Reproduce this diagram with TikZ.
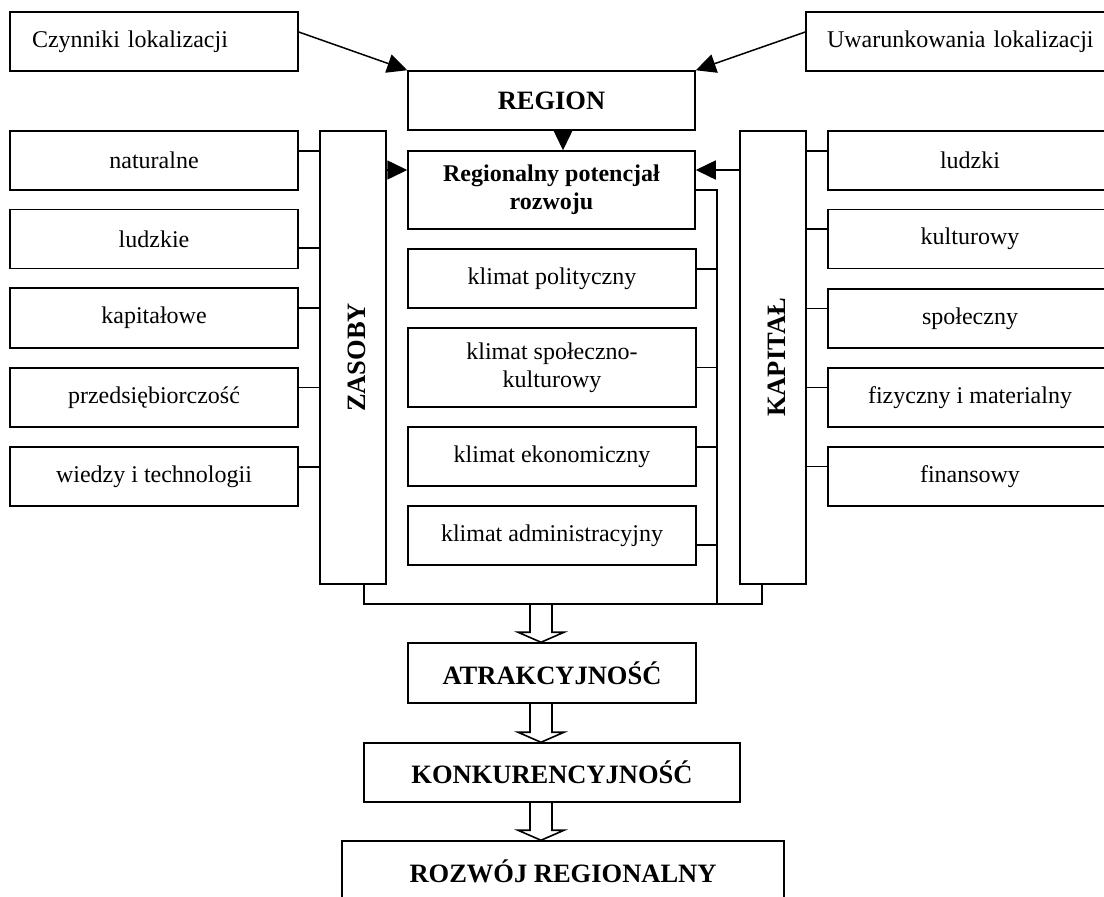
\documentclass[tikz,border=0pt]{standalone}
\usepackage{fontspec}
\setmainfont{Liberation Serif}
\usetikzlibrary{arrows.meta}

\newcommand{\txtsize}{\fontsize{24}{28}\selectfont}
\newcommand{\hdsize}{\fontsize{26.5}{30}\selectfont\bfseries}

\tikzset{
    box/.style={draw, line width=1.5pt, inner sep=0pt, align=center, font=\txtsize},
    head/.style={box, font=\hdsize},
    link/.style={line width=1.5pt},
    tip/.style={link, -{Triangle[length=20pt, width=19pt]}},
    hollow/.style={line width=1.6pt, line join=miter},
}

\begin{document}
\begin{tikzpicture}[x=1pt, y=-1pt]
    \useasboundingbox (0,0) rectangle (1104,897);
    \fill[white] (0,0) rectangle (1104,897);
    \clip (0,0) rectangle (1104,897);

    % top row
    \node[box, minimum height=59pt, inner xsep=22pt, text width=244pt, align=left] (czyn) at (154,41.5) {Czynniki lokalizacji};
    \node[box, minimum height=59pt, inner xsep=21pt, text width=272pt, align=left] (uwar) at (963,41.5) {Uwarunkowania lokalizacji};
    \node[head, minimum width=287pt, minimum height=59pt] (region) at (551.5,100.5) {REGION};

    % middle column
    \node[box, font=\txtsize\bfseries, minimum width=287pt, minimum height=78pt] (potencjal) at (551.5,190) {Regionalny potencjał\\rozwoju};
    \node[box, minimum width=288pt, minimum height=59pt] (polityczny) at (552,278.5) {klimat polityczny};
    \node[box, minimum width=288pt, minimum height=79pt] (spoleczno) at (552,367.5) {klimat społeczno-\\kulturowy};
    \node[box, minimum width=288pt, minimum height=59pt] (ekonom) at (552,456.5) {klimat ekonomiczny};
    \node[box, minimum width=288pt, minimum height=59pt] (admin) at (552,535.5) {klimat administracyjny};

    % zasoby
    \node[box, minimum width=66pt, minimum height=453pt] (zasoby) at (353,357.5) {};
    \node[rotate=90, font=\hdsize] (zasobyt) at ([xshift=4pt]zasoby.center) {ZASOBY};
    \node[box, minimum width=288pt, minimum height=59pt] (naturalne) at (154,160.5) {naturalne};
    \node[box, minimum width=288pt, minimum height=59pt] (ludzkie) at (154,239) {ludzkie};
    \node[box, minimum width=288pt, minimum height=60pt] (kapitalowe) at (154,318) {kapitałowe};
    \node[box, minimum width=288pt, minimum height=59pt] (przeds) at (154,397.5) {przedsiębiorczość};
    \node[box, minimum width=288pt, minimum height=59pt] (wiedza) at (154,476.5) {wiedzy i technologii};

    % kapital
    \node[box, minimum width=66pt, minimum height=453pt] (kapital) at (773,357.5) {};
    \node[rotate=90, font=\hdsize] (kapitalt) at ([xshift=4pt]kapital.center) {KAPITAŁ};
    \node[box, minimum width=284pt, minimum height=59pt] (ludzki) at (970,160.5) {ludzki};
    \node[box, minimum width=284pt, minimum height=59pt] (kulturowy) at (970,239) {kulturowy};
    \node[box, minimum width=284pt, minimum height=59pt] (spoleczny) at (970,318.5) {społeczny};
    \node[box, minimum width=284pt, minimum height=59pt] (fizyczny) at (970,397.5) {fizyczny i materialny};
    \node[box, minimum width=284pt, minimum height=59pt] (finansowy) at (970,476.5) {finansowy};

    % bottom chain
    \node[head, minimum width=288pt, minimum height=60pt] (atr) at (552,673) {ATRAKCYJNOŚĆ};
    \node[head, minimum width=376pt, minimum height=59pt] (konk) at (552,772.5) {KONKURENCYJNOŚĆ};
    \node[head, minimum width=442pt, minimum height=60pt] (rozw) at (563,871) {ROZWÓJ REGIONALNY};

    % arrows into region and potential
    \draw[tip] ([yshift=9.5pt]czyn.east) -- (region.north west);
    \draw[tip] ([yshift=9.5pt]uwar.west) -- (region.north east);
    \draw[tip] ([xshift=11.5pt]region.south) -- ([xshift=11.5pt]potencjal.north);
    \draw[tip] ([yshift=20pt]zasoby.east |- potencjal.west) -- ([yshift=20pt]potencjal.west);
    \draw[tip] ([yshift=20pt]kapital.west |- potencjal.east) -- ([yshift=20pt]potencjal.east);

    % side links
    \foreach \b/\s in {naturalne/9.5, ludzkie/-9, kapitalowe/10, przeds/10, wiedza/9.5}
        \draw[link] ([yshift=\s pt]\b.east) -- ([yshift=\s pt]\b.east -| zasoby.west);
    \foreach \b/\s in {ludzki/9.5, kulturowy/10, spoleczny/10, fizyczny/10, finansowy/10}
        \draw[link] ([yshift=\s pt]\b.west) -- ([yshift=\s pt]\b.west -| kapital.east);

    % bus under the middle column
    \coordinate (busr) at (717,604);
    \draw[link] (potencjal.east) -| (busr);
    \foreach \b/\s in {polityczny/9.5, spoleczno/0, ekonom/9.5, admin/-9.5}
        \draw[link] ([yshift=\s pt]\b.east) -- ([yshift=\s pt]\b.east -| busr);
    \draw[link] ([xshift=11pt]zasoby.south) |- (busr) -| ([xshift=-11pt]kapital.south);

    % hollow arrows
    \coordinate (arrx) at (541,0);
    \foreach \src/\dst in {busr/atr.north, atr.south/konk.north, konk.south/rozw.north}
        \draw[hollow] ([xshift=-11pt]arrx |- \src) -- ([xshift=-11pt, yshift=10pt]arrx |- \dst) -- ++(-12,0)
            -- (arrx |- \dst) -- ([xshift=23pt, yshift=10pt]arrx |- \dst) -- ++(-12,0) -- ([xshift=11pt]arrx |- \src);
\end{tikzpicture}
\end{document}
